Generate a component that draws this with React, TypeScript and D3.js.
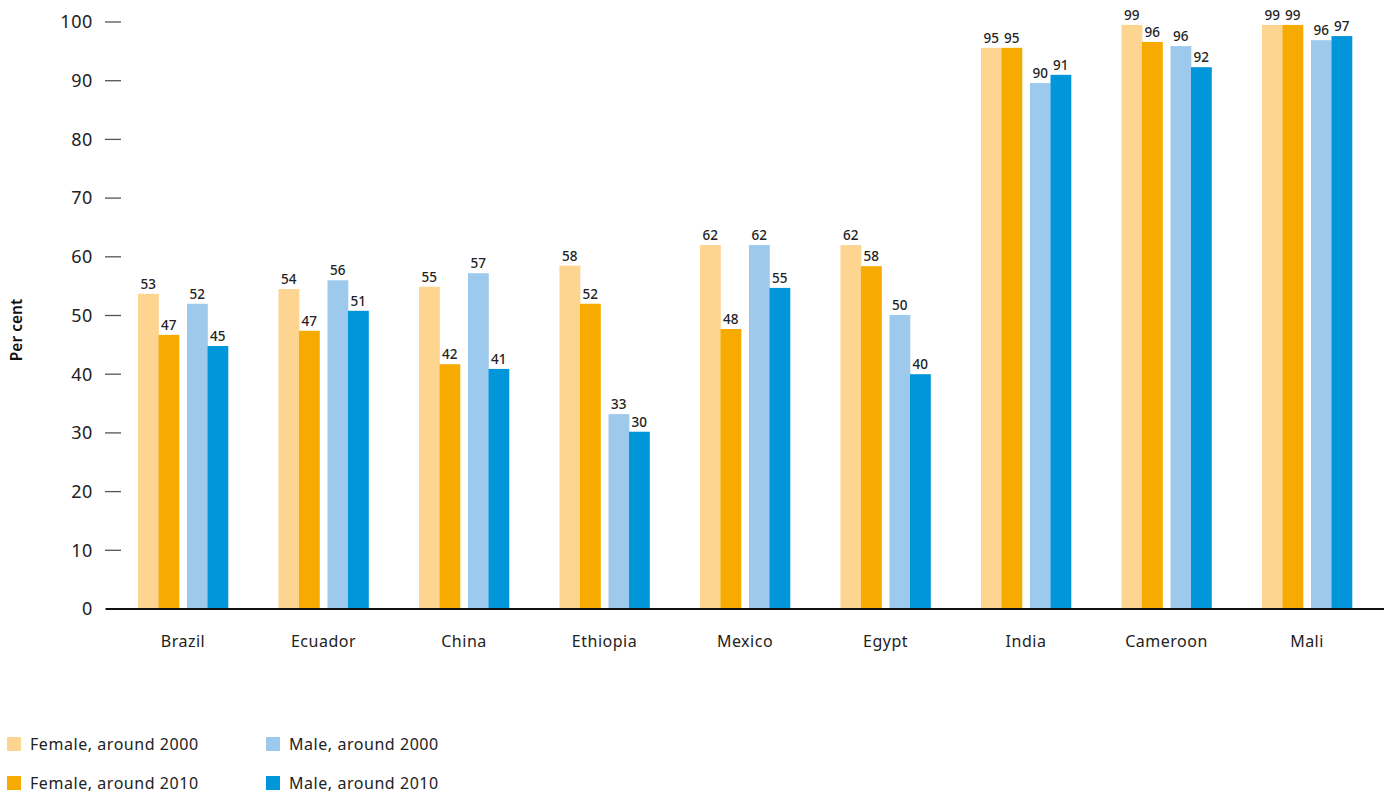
import React from "react";
import * as d3 from "d3";

const categories = ["Brazil", "Ecuador", "China", "Ethiopia", "Mexico", "Egypt", "India", "Cameroon", "Mali"];
const seriesNames = ["Female, around 2000", "Female, around 2010", "Male, around 2000", "Male, around 2010"];
const seriesColors = ["#FDD490", "#F7AB00", "#9DC9EC", "#0096D9"];

const female2000 = [53.7, 54.5, 54.9, 58.5, 62.0, 62.0, 95.6, 99.5, 99.5];
const female2010 = [46.7, 47.4, 41.7, 52.0, 47.7, 58.4, 95.6, 96.6, 99.5];
const male2000 = [52.0, 56.0, 57.2, 33.2, 62.0, 50.1, 89.6, 95.9, 96.9];
const male2010 = [44.8, 50.8, 40.9, 30.2, 54.7, 40.0, 91.0, 92.3, 97.6];

const female2000Labels = ["53", "54", "55", "58", "62", "62", "95", "99", "99"];
const female2010Labels = ["47", "47", "42", "52", "48", "58", "95", "96", "99"];
const male2000Labels = ["52", "56", "57", "33", "62", "50", "90", "96", "96"];
const male2010Labels = ["45", "51", "41", "30", "55", "40", "91", "92", "97"];

const yTicks = [0, 10, 20, 30, 40, 50, 60, 70, 80, 90, 100];

const FONT = "'Noto Sans', 'Open Sans', sans-serif";

export default function App() {
  const W = 1385;
  const H = 793;
  const y = d3.scaleLinear().domain([0, 100]).range([609, 22]);
  const x = d3.scaleBand().domain(categories).range([112.75, 1377.25]).paddingInner(0).paddingOuter(0);
  const series = [female2000, female2010, male2000, male2010];
  const labels = [female2000Labels, female2010Labels, male2000Labels, male2010Labels];
  const barW = 20.5;
  const gap = 8;
  const offsets = [-gap / 2 - 2 * barW, -gap / 2 - barW, gap / 2, gap / 2 + barW];

  return (
    <svg width={W} height={H} style={{ position: "absolute", left: 0, top: 0, background: "#fff" }} fontFamily={FONT}>
      {yTicks.map((t) => (
        <g key={t}>
          <line x1={105} x2={121} y1={y(t)} y2={y(t)} stroke="#555" strokeWidth={1.3} />
          <text x={93} y={y(t)} dy="0.35em" textAnchor="end" fontSize={18} letterSpacing={0.6} fill="#222">
            {t}
          </text>
        </g>
      ))}
      <text
        transform={`translate(22,${330}) rotate(-90)`}
        textAnchor="middle"
        fontSize={15.5}
        fontWeight={600}
        fill="#111"
      >
        Per cent
      </text>
      {categories.map((c, i) => {
        const cx = (x(c) as number) + x.bandwidth() / 2;
        return (
          <g key={c}>
            {series.map((s, k) => (
              <rect
                key={k}
                x={cx + offsets[k]}
                y={y(s[i])}
                width={barW + 0.3}
                height={y(0) - y(s[i])}
                fill={seriesColors[k]}
              />
            ))}
            {series.map((s, k) => (
              <text
                key={"l" + k}
                x={cx + offsets[k] + barW / 2}
                y={y(s[i]) - 5}
                textAnchor="middle"
                fontSize={13.5}
                fontWeight={500}
                fill="#222"
              >
                {labels[k][i]}
              </text>
            ))}
            <text x={cx} y={647} textAnchor="middle" fontSize={16} letterSpacing={0.5} fill="#222">
              {c}
            </text>
          </g>
        );
      })}
      <line x1={106} x2={1384} y1={y(0)} y2={y(0)} stroke="#111" strokeWidth={2} />
      {seriesNames.map((n, k) => {
        const col = k < 2 ? 0 : 1;
        const row = k % 2;
        const lx = 7 + col * 259;
        const ly = 737 + row * 39;
        return (
          <g key={n}>
            <rect x={lx} y={ly} width={14} height={14} fill={seriesColors[k]} />
            <text x={lx + 23} y={ly + 7} dy="0.35em" fontSize={16} letterSpacing={0.55} fill="#222">
              {n}
            </text>
          </g>
        );
      })}
    </svg>
  );
}
